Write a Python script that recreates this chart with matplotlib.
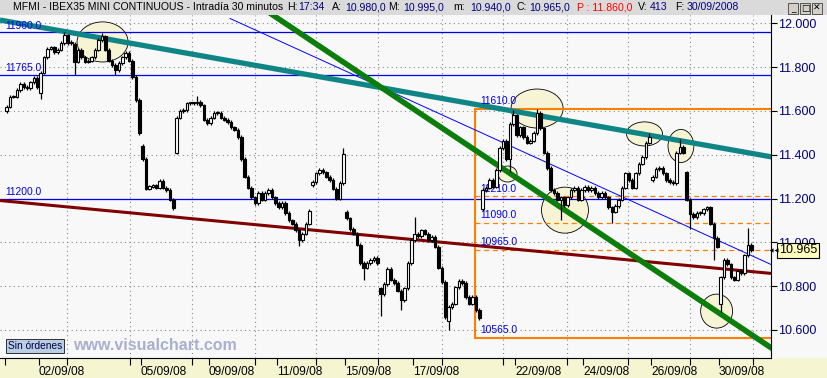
import matplotlib
matplotlib.use('Agg')
import matplotlib.pyplot as plt
from matplotlib.patches import Ellipse, Rectangle
import numpy as np

# IBEX35 mini, 30 min candles (thinned to 10 bars per session)
day_labels = ['', '02/09/08', '05/09/08', '09/09/08', '11/09/08', '15/09/08',
              '17/09/08', '22/09/08', '24/09/08', '26/09/08', '30/09/08']
day_ticks = [0, 1, 4, 6, 8, 10, 12, 15, 17, 19, 21]

closes = [
    [11620, 11665, 11665, 11695, 11725, 11710, 11705, 11730, 11750, 11710],
    [11775, 11845, 11885, 11890, 11870, 11880, 11910, 11945, 11910, 11915],
    [11825, 11880, 11845, 11825, 11830, 11845, 11880, 11925, 11940, 11880],
    [11830, 11810, 11785, 11820, 11845, 11865, 11830, 11755, 11650, 11500],
    [11380, 11245, 11255, 11260, 11250, 11280, 11250, 11240, 11195, 11155],
    [11570, 11600, 11605, 11635, 11635, 11635, 11640, 11625, 11560, 11545],
    [11570, 11590, 11590, 11570, 11560, 11550, 11525, 11515, 11480, 11380],
    [11300, 11250, 11205, 11180, 11225, 11195, 11225, 11240, 11205, 11180],
    [11160, 11180, 11135, 11100, 11085, 11055, 11010, 11040, 11085, 11145],
    [11275, 11315, 11330, 11320, 11300, 11285, 11245, 11200, 11270, 11405],
    [11110, 11060, 11040, 10990, 10905, 10885, 10905, 10920, 10930, 10905],
    [10765, 10810, 10880, 10830, 10815, 10780, 10735, 10790, 10905, 11010],
    [11040, 11030, 11055, 11040, 11010, 11025, 10980, 10885, 10820, 10660],
    [10705, 10720, 10795, 10825, 10815, 10750, 10720, 10750, 10690, 10655],
    [11240, 11250, 11285, 11255, 11330, 11430, 11465, 11380, 11540, 11580],
    [11490, 11525, 11480, 11455, 11465, 11500, 11590, 11520, 11410, 11340],
    [11240, 11225, 11195, 11205, 11170, 11205, 11240, 11250, 11195, 11240],
    [11255, 11240, 11250, 11225, 11205, 11225, 11205, 11160, 11140, 11165],
    [11195, 11250, 11315, 11285, 11250, 11315, 11360, 11390, 11455, 11480],
    [11300, 11335, 11340, 11315, 11285, 11275, 11270, 11410, 11435, 11410],
    [11195, 11130, 11115, 11135, 11135, 11150, 11160, 11085, 11020, 10980],
    [10840, 10920, 10900, 10840, 10830, 10870, 10860, 10940, 10990, 10965],
]
# opening price of each session (overnight gaps)
day_open = [11600, 11680, 11905, 11880, 11440, 11410, 11545, 11380, 11180, 11260, 11140,
            10790, 11010, 10640, 11150, 11580, 11340, 11240, 11165, 11285, 11320, 10720]
# long shadows (session, bar, price)
spike_lows = [(1, 0, 11655), (2, 0, 11765), (3, 2, 11765), (8, 6, 10985), (10, 5, 10830),
              (11, 0, 10665), (11, 6, 10690), (13, 0, 10600), (14, 8, 11320), (16, 3, 11100),
              (17, 8, 11090), (20, 1, 11060), (20, 8, 10920), (21, 0, 10680)]
spike_highs = [(1, 7, 11960), (2, 8, 11955), (5, 6, 11670), (9, 9, 11430), (12, 0, 11115),
               (14, 9, 11605), (15, 6, 11610), (18, 9, 11500), (19, 8, 11470), (21, 8, 11065)]

# drawing tools
blue_levels = [11960, 11765, 11200]
box_top, box_bottom, box_start = 11610, 10565, 13.82
dashed_levels = [11210, 11090, 10965]
teal_line = ([-0.15, 22.55], [12015, 11390])
green_line = ([7.5, 22.8], [12077, 10491])
blue_line = ([6.62, 22.8], [12022, 10880])
maroon_line = ([-0.15, 22.55], [11191, 10858])
# circles: centre day, centre price, width (days), height (points)
circles = [(2.87, 11915, 1.50, 183), (15.65, 11611, 1.53, 178), (14.78, 11312, 0.56, 73),
           (16.47, 11147, 1.38, 210), (18.81, 11495, 1.06, 110), (19.88, 11440, 0.76, 151),
           (20.93, 10686, 0.94, 155)]
grid_days = [1.82, 3.68, 5.50, 7.35, 9.15, 10.97, 12.85, 14.65, 16.53, 18.32, 20.15, 22.0]
price_ticks = [10600, 10800, 11000, 11200, 11400, 11600, 11800, 12000]
last_price = 10965

# build OHLC
c = np.array(closes, dtype=float).ravel()
nd = len(closes)
x = np.array([d + (k + 0.5) / 10 for d in range(nd) for k in range(10)])
o = np.empty_like(c)
o[1:] = c[:-1]
for d in range(nd):
    o[d * 10] = day_open[d]
h = np.maximum(o, c) + 8
l = np.minimum(o, c) - 8
for d, k, p in spike_lows:
    l[d * 10 + k] = p
for d, k, p in spike_highs:
    h[d * 10 + k] = p

W, H = 828, 378
navy = '#000080'
fig = plt.figure(figsize=(W / 100, H / 100), dpi=100, facecolor='#f8f8f8')
fig.patches.append(Rectangle((0, 1 - 15 / H), 1, 15 / H, transform=fig.transFigure,
                             facecolor='#dadada', edgecolor='none', zorder=-5))
fig.patches.append(Rectangle((0, 0), 1, 20 / H, transform=fig.transFigure,
                             facecolor='#f5f5d2', edgecolor='none', zorder=-5))

ax = fig.add_axes([0, 20 / H, 771 / W, (358 - 15) / H])
ax.set_facecolor('#f8f8f8')
ax.set_xlim(-5 / 34, 766 / 34)
ax.set_ylim(10472, 12038)

for gx in grid_days:
    ax.axvline(gx, color='#8a8a8a', lw=0.8, ls=(0, (1, 3)), zorder=0.5)
for gy in price_ticks:
    ax.axhline(gy, color='#8a8a8a', lw=0.8, ls=(0, (1, 3)), zorder=0.5)

for cx, cy, w, hh in circles:
    ax.add_patch(Ellipse((cx, cy), w, hh, facecolor='#f7f4d6', edgecolor='black', lw=0.6, zorder=1))

# levels
for lv in blue_levels:
    ax.axhline(lv, color='#0000ee', lw=0.9, zorder=1.5)
    ax.text(0.0, lv + 6, '%d.0' % lv, color='#0000ee', fontsize=7.4, family='Liberation Sans',
            va='bottom', ha='left', zorder=2)
xr = ax.get_xlim()[1]
ax.plot([box_start, box_start], [box_bottom, box_top], color='#ff8000', lw=1.5, zorder=1.6)
ax.hlines([box_top, box_bottom], box_start, xr, colors='#ff8000', lw=1.5, zorder=1.6)
ax.hlines(dashed_levels, box_start, xr, colors='#ff8000', lw=0.9, linestyles=(0, (4, 3)), zorder=1.6)
for lv in [box_top] + dashed_levels + [box_bottom]:
    ax.text(box_start + 0.15, lv + 12, '%d.0' % lv, color='#0000ee', fontsize=7.4,
            family='Liberation Sans', va='bottom', ha='left', zorder=2)

ax.plot(*maroon_line, color='#800000', lw=2.2, zorder=1.8)
ax.plot(*blue_line, color='#0000ff', lw=0.7, zorder=1.8)
ax.plot(*teal_line, color='#0f8585', lw=3.8, zorder=1.8, solid_capstyle='butt')
ax.plot(*green_line, color='#0b7d0b', lw=4.0, zorder=1.8, solid_capstyle='butt')

# candles
up = c >= o
ax.vlines(x, l, h, color='black', lw=0.9, zorder=3)
body = np.abs(c - o)
body = np.where(body < 4, 4, body)
ax.bar(x[up], body[up], bottom=o[up], width=0.072, facecolor='white', edgecolor='black', lw=0.8, zorder=3.2)
ax.bar(x[~up], body[~up], bottom=c[~up], width=0.072, facecolor='black', edgecolor='black', lw=0.8, zorder=3.2)

# axes styling
for s in ['left', 'top']:
    ax.spines[s].set_visible(False)
ax.spines['right'].set_color('black')
ax.spines['bottom'].set_color('black')
ax.yaxis.tick_right()
ax.set_yticks(price_ticks)
ax.set_yticklabels(['{:,}'.format(p).replace(',', '.') for p in price_ticks],
                   color=navy, fontsize=9, family='Liberation Sans')
ax.tick_params(axis='y', direction='out', length=4, width=0.8, pad=1, colors='black', labelcolor=navy)
ax.set_xticks(day_ticks)
ax.set_xticklabels(day_labels, fontsize=8.6, family='Liberation Sans', ha='left')
ax.set_xticks(grid_days, minor=True)
ax.tick_params(axis='x', which='both', direction='out', length=5, width=0.8, pad=1)

# last price flag on the scale
ax.annotate('10.965', xy=(1, last_price), xycoords=('axes fraction', 'data'),
            xytext=(8, 0), textcoords='offset pixels', fontsize=9, family='Liberation Sans',
            va='center', ha='left', color='black', zorder=10, annotation_clip=False,
            bbox=dict(boxstyle='square,pad=0.12', facecolor='#ffffc0', edgecolor='black', lw=0.8))
ax.plot([1.0], [last_price], marker='<', ms=3, color='black', transform=ax.get_yaxis_transform(),
        clip_on=False, zorder=10, markeredgewidth=0)
ax.plot([1.006], [last_price], marker='<', ms=3, color='black', transform=ax.get_yaxis_transform(),
        clip_on=False, zorder=10, markeredgewidth=0)

# title bar
title_parts = [(13, 'MFMI - IBEX35 MINI CONTINUOUS - Intradía 30 minutos', 'black'),
               (287, 'H:', 'black'), (298, '17:34', navy), (332, 'A:', 'black'),
               (345, '10.980,0', navy), (388, 'M:', 'black'), (403, '10.995,0', navy),
               (453, 'm:', 'black'), (470, '10.940,0', navy), (517, 'C:', 'black'),
               (529, '10.965,0', navy), (577, 'P : 11.860,0', 'red'), (638, 'V:', 'black'),
               (650, '413', navy), (675, 'F:', 'black'), (687, '30/09/2008', navy)]
for px, txt, col in title_parts:
    fig.text(px / W, 1 - 7.5 / H, txt, color=col, fontsize=7.6, family='Liberation Sans',
             va='center', ha='left')
for bx, sym in [(788, '_'), (800, '□'), (812, '✕')]:
    fig.patches.append(Rectangle((bx / W, 1 - 14 / H), 10 / W, 11 / H, transform=fig.transFigure,
                                 facecolor='#d4d0c8', edgecolor='#404040', lw=0.6, zorder=5))
    fig.text((bx + 5) / W, 1 - 8.5 / H, sym, fontsize=6.5, ha='center', va='center', zorder=6)

fig.text(8 / W, 1 - 346 / H, 'Sin órdenes', fontsize=7.3, family='Liberation Sans', color='#000040',
         va='center', ha='left', zorder=10,
         bbox=dict(boxstyle='square,pad=0.15', facecolor='#b9cde5', edgecolor='#303030', lw=0.7))
fig.text(73 / W, 1 - 346 / H, 'www.visualchart.com', fontsize=11.5, family='Liberation Sans',
         weight='bold', color='#a9b0cf', va='center', ha='left', zorder=10)

fig.savefig('out.png', dpi=100, facecolor=fig.get_facecolor())
